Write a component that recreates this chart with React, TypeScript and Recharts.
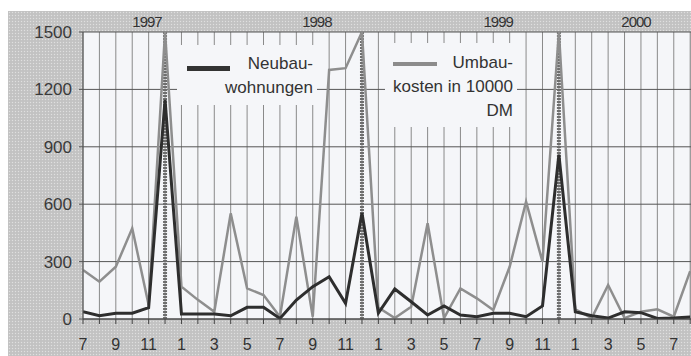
import { LineChart, Line, XAxis, YAxis, CartesianGrid, ReferenceLine } from 'recharts';

// months Jul 1997 .. Aug 2000 (last one is cut at the right edge)
const monthNumbers = [7, 8, 9, 10, 11, 12, 1, 2, 3, 4, 5, 6, 7, 8, 9, 10, 11, 12, 1, 2, 3, 4, 5, 6, 7, 8, 9, 10, 11, 12, 1, 2, 3, 4, 5, 6, 7, 8];
const neubau = [38, 17, 30, 30, 59, 1145, 26, 26, 26, 17, 61, 61, 3, 99, 169, 221, 82, 554, 31, 157, 90, 21, 68, 21, 12, 30, 30, 12, 68, 859, 38, 17, 5, 38, 33, 3, 5, 10];
const umbau = [256, 195, 273, 474, 73, 1500, 169, 100, 38, 552, 160, 125, 12, 535, 12, 1302, 1311, 1500, 60, 5, 64, 500, 5, 160, 108, 47, 273, 613, 299, 1500, 50, 5, 178, 5, 38, 51, 12, 250];

const yearLabels = ['1997', '1998', '1999', '2000'];
const yearTicks = [3.9, 14.25, 25.3, 33.7];
const yearBreaks = [5, 17, 29];
const yTicks = [0, 300, 600, 900, 1200, 1500];

const data = monthNumbers.map((m, i) => ({ idx: i, month: m, neubau: neubau[i], umbau: umbau[i] }));
const monthTicks = data.map(d => d.idx);

const font = '"Liberation Sans", Arial, sans-serif';
const plotFill = '#f5f6f9';

// fine scanned raster look
const hatch =
  'radial-gradient(circle, rgba(255,255,255,0.45) 0.7px, transparent 0.9px) 0 0 / 3px 3px, ' +
  'radial-gradient(circle, rgba(0,0,0,0.07) 0.7px, transparent 0.9px) 1.5px 1.5px / 3px 3px, #c5c5c5';

export default function App() {
  return (
    <div style={{ position: 'absolute', left: 0, top: 0, width: 691, height: 356, background: '#fff', overflow: 'hidden', fontFamily: font }}>
      <div style={{ position: 'absolute', left: 8, top: 11, right: 0, bottom: 0, background: hatch }} />
      <div style={{ position: 'absolute', left: 0, top: 0 }}>
        <LineChart width={691} height={356} data={data} margin={{ top: 10, right: 0, bottom: 0, left: 8 }}>
          <CartesianGrid horizontal={false} stroke="#8a8a8a" fill={plotFill} strokeWidth={1} />
          <CartesianGrid vertical={false} stroke="#555" strokeWidth={1} />
          <XAxis
            dataKey="idx"
            type="number"
            domain={[0, 37.05]}
            allowDataOverflow
            ticks={monthTicks}
            interval={0}
            height={37}
            tickSize={5}
            tickMargin={15}
            stroke="#444"
            tick={{ fontSize: 16, fill: '#333', fontFamily: font }}
            tickFormatter={(v: number) => (v % 2 === 0 && v < 37 ? String(monthNumbers[v]) : '')}
          />
          <XAxis
            xAxisId="years"
            orientation="top"
            dataKey="idx"
            type="number"
            domain={[0, 37.05]}
            allowDataOverflow
            ticks={yearTicks}
            interval={0}
            height={22}
            tickSize={0}
            tickMargin={5}
            axisLine={false}
            tickLine={false}
            tick={{ fontSize: 15, fill: '#333', fontFamily: font, letterSpacing: -1 }}
            tickFormatter={(v: number) => yearLabels[yearTicks.indexOf(v)] ?? ''}
          />
          <YAxis
            type="number"
            domain={[0, 1500]}
            allowDataOverflow
            ticks={yTicks}
            interval={0}
            width={75}
            tickSize={4}
            tickMargin={7}
            stroke="#555"
            tick={{ fontSize: 17, fill: '#3a3a3a', fontFamily: font }}
          />
          {yearBreaks.map(x => (
            <ReferenceLine key={x} x={x} stroke="#6e6e6e" strokeWidth={4} strokeDasharray="2 1" />
          ))}
          <Line type="linear" dataKey="umbau" stroke="#8e8e8e" strokeWidth={2.5} dot={false} isAnimationActive={false} />
          <Line type="linear" dataKey="neubau" stroke="#2e2e2e" strokeWidth={3} dot={false} isAnimationActive={false} />
        </LineChart>
      </div>

      {/* legend boxes */}
      <div style={{ position: 'absolute', left: 177, top: 45, width: 140, height: 60, background: plotFill }}>
        <div style={{ position: 'absolute', left: 10, top: 21, width: 43, height: 5, background: '#333' }} />
        <div style={{ position: 'absolute', right: 4, top: 7, textAlign: 'right', fontSize: 17, lineHeight: '24px', color: '#333' }}>
          Neubau-<br />wohnungen
        </div>
      </div>
      <div style={{ position: 'absolute', left: 385, top: 43, width: 132, height: 84, background: plotFill }}>
        <div style={{ position: 'absolute', left: 8, top: 19, width: 44, height: 4, background: '#8c8c8c' }} />
        <div style={{ position: 'absolute', right: 4, top: 8, textAlign: 'right', fontSize: 17, lineHeight: '24px', color: '#333', whiteSpace: 'nowrap' }}>
          Umbau-<br />kosten in 10000<br />DM
        </div>
      </div>
    </div>
  );
}
